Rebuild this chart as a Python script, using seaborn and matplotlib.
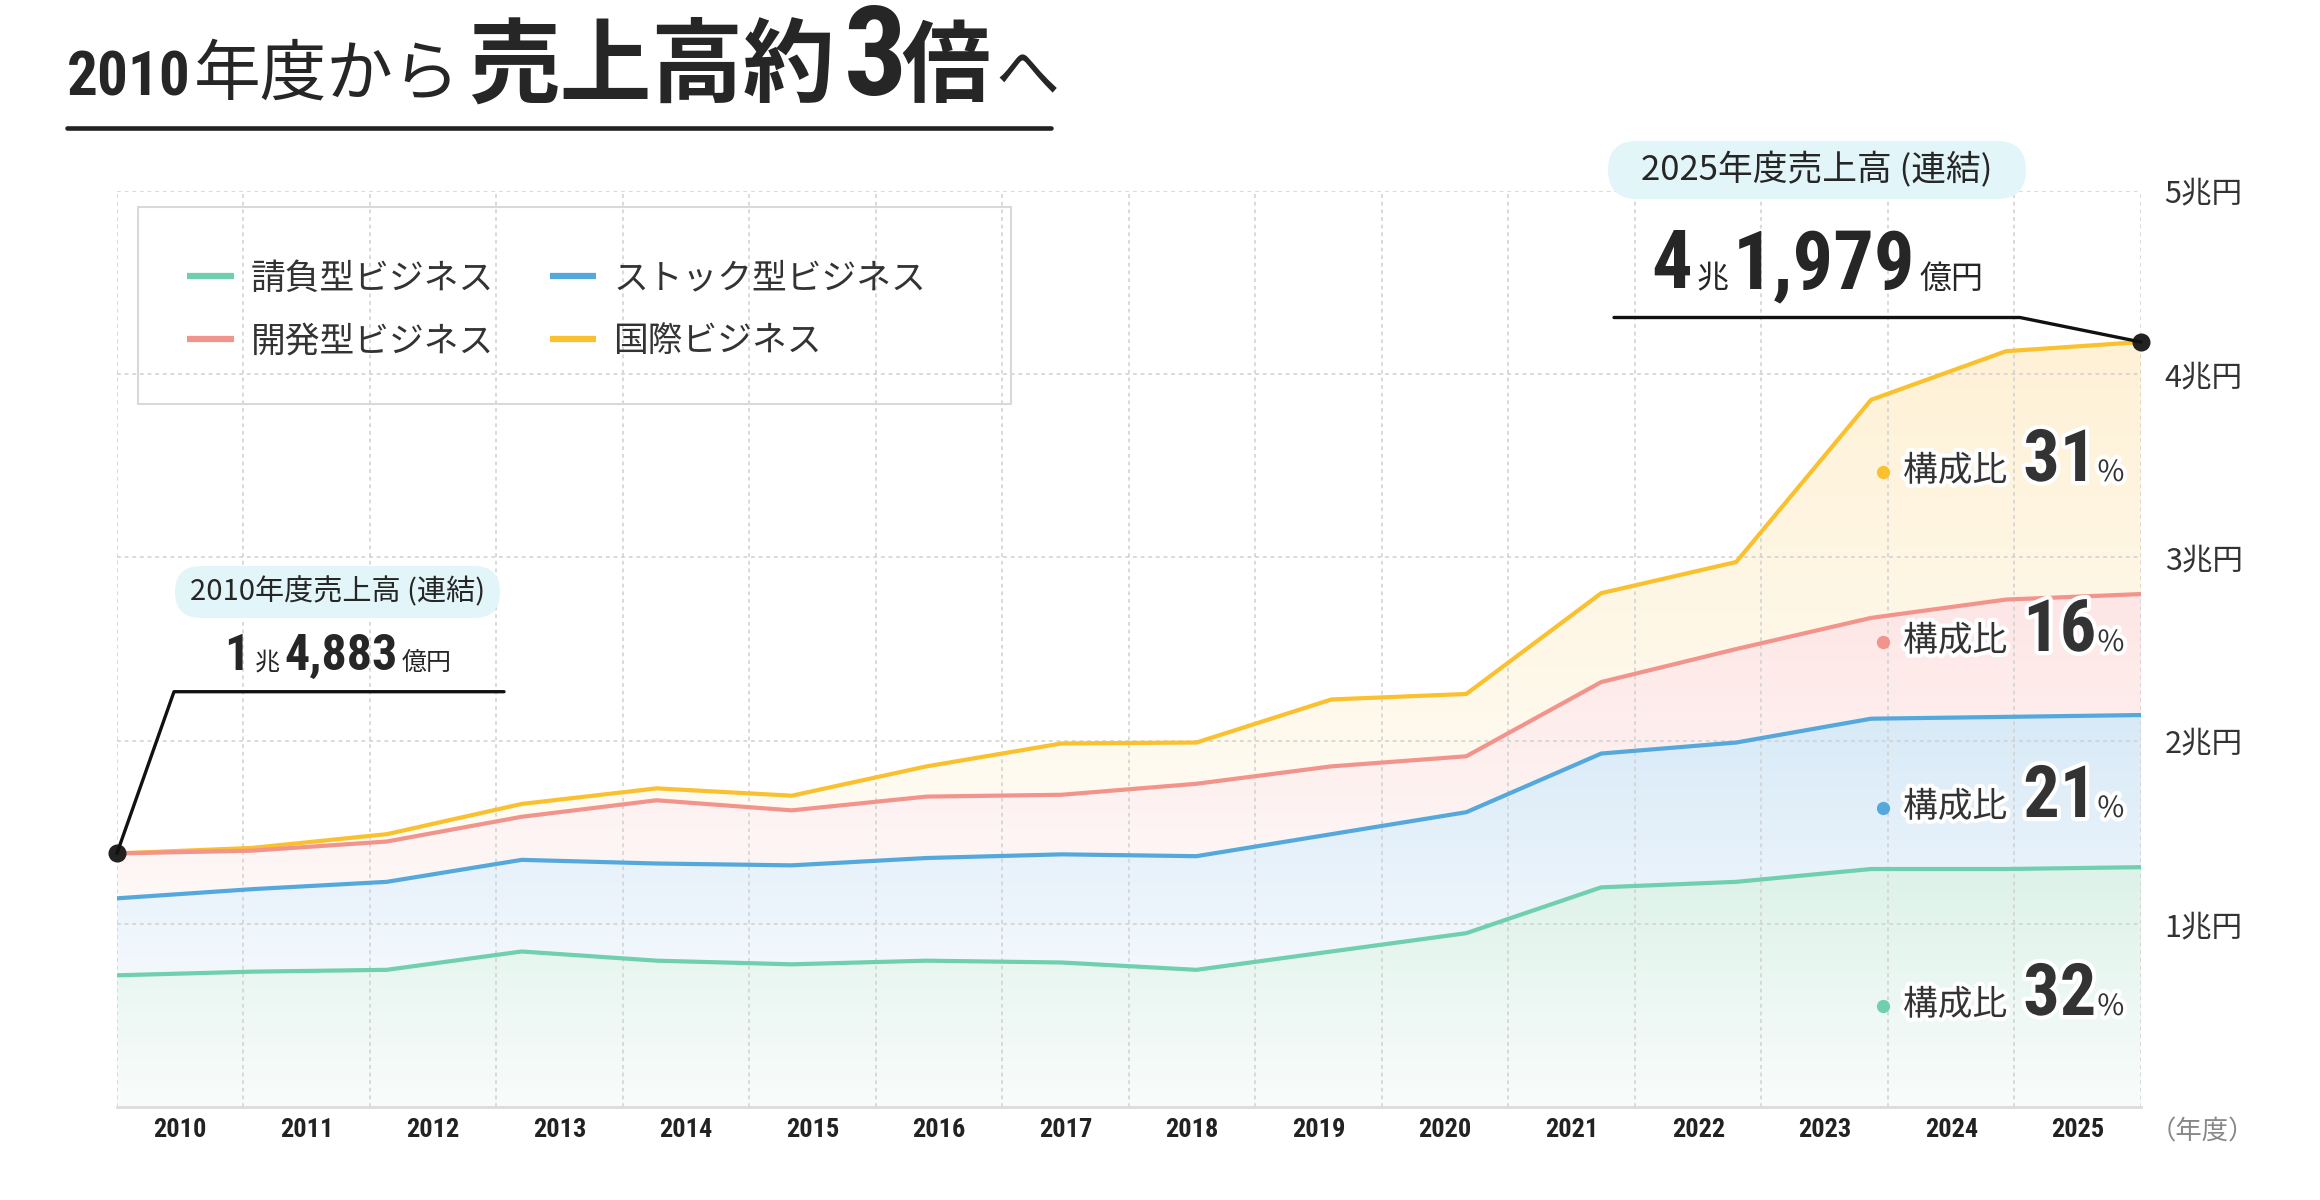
import numpy as np
import pandas as pd
import matplotlib
matplotlib.use('Agg')
import matplotlib.pyplot as plt
import matplotlib.transforms as mtransforms
import matplotlib.patheffects as pe
from matplotlib.patches import FancyBboxPatch, Rectangle
from matplotlib.lines import Line2D
from matplotlib.colors import LinearSegmentedColormap
from matplotlib import font_manager
import seaborn as sns

# ---- data (兆円) ----
years = list(range(2010, 2026))
ukeoi = [0.72, 0.74, 0.75, 0.85, 0.80, 0.78, 0.80, 0.79, 0.75, 0.85, 0.95, 1.20, 1.23, 1.30, 1.30, 1.31]
stock = [0.42, 0.45, 0.48, 0.50, 0.53, 0.54, 0.56, 0.59, 0.62, 0.64, 0.66, 0.73, 0.76, 0.82, 0.83, 0.83]
kaihatsu = [0.245, 0.21, 0.22, 0.235, 0.345, 0.30, 0.335, 0.325, 0.395, 0.37, 0.305, 0.39, 0.51, 0.55, 0.64, 0.66]
kokusai = [0.0, 0.015, 0.04, 0.07, 0.065, 0.08, 0.165, 0.28, 0.225, 0.365, 0.34, 0.485, 0.475, 1.19, 1.355, 1.375]
series_names = ['請負型ビジネス', 'ストック型ビジネス', '開発型ビジネス', '国際ビジネス']
shares = [32, 21, 16, 31]
ytick_vals = [1, 2, 3, 4, 5]
ytick_labels = ['1兆円', '2兆円', '3兆円', '4兆円', '5兆円']

line_colors = ['#6fcfae', '#54a8dc', '#f2938c', '#fbc02d']
fill_top = ['#ddf2e9', '#d8eaf7', '#fde6e5', '#fef1d6']
fill_bot = ['#f9fcfb', '#f3f8fd', '#fef8f7', '#fffcf4']

W, H = 2320, 1200

sns.set_theme(style='white')
plt.rcParams['font.family'] = ['Noto Sans CJK JP', 'DejaVu Sans']
cjk = ['Noto Sans CJK JP', 'DejaVu Sans']
names = {f.name for f in font_manager.fontManager.ttflist}
num_font = next((n for n in ['Roboto Condensed', 'Liberation Sans Narrow', 'DejaVu Sans Condensed',
                             'Open Sans Condensed', 'Roboto'] if n in names), 'DejaVu Sans')

fig = plt.figure(figsize=(W / 100, H / 100), dpi=100)
fig.patch.set_facecolor('white')
tpx = mtransforms.Affine2D().scale(1, -1).translate(0, H)  # pixel coords from top-left

ax = fig.add_axes([116.9 / W, 1 - 1107.3 / H, (2141 - 116.9) / W, (1107.3 - 190.8) / H])
ax.set_facecolor('none')

pos = np.arange(len(years))
tops = np.cumsum(np.array([ukeoi, stock, kaihatsu, kokusai]), axis=0)
lows = np.vstack([np.zeros(len(years)), tops[:-1]])

# gradient-filled bands
for i in range(4):
    poly = ax.fill_between(pos, lows[i], tops[i], facecolor='none', edgecolor='none')
    cmap = LinearSegmentedColormap.from_list('g%d' % i, [fill_bot[i], fill_top[i]])
    im = ax.imshow(np.linspace(0, 1, 256).reshape(-1, 1), cmap=cmap, origin='lower', aspect='auto',
                   extent=[pos[0], pos[-1], lows[i].min(), tops[i].max()], zorder=1,
                   interpolation='bilinear')
    im.set_clip_path(poly.get_paths()[0], transform=ax.transData)

long = pd.DataFrame({'pos': np.tile(pos, 4), 'top': tops.ravel(),
                     'series': np.repeat(series_names, len(years))})
sns.lineplot(data=long, x='pos', y='top', hue='series', hue_order=series_names[::-1],
             palette=dict(zip(series_names, line_colors)), linewidth=3, errorbar=None,
             legend=False, ax=ax, zorder=3)

n = len(years)
span = pos[-1] - pos[0]
ax.set_xlim(pos[0], pos[-1])
ax.set_ylim(0, 5)
ax.set_xticks([(k + 0.5) * span / n for k in range(n)])
ax.set_xticklabels(years, fontfamily=num_font, fontweight='bold', fontsize=19, color='#222222')
ax.set_xticks([k * span / n for k in range(n + 1)], minor=True)
ax.set_yticks(ytick_vals)
ax.set_yticklabels(ytick_labels, fontsize=22, color='#333333')
ax.yaxis.tick_right()
ax.tick_params(which='both', length=0)
ax.tick_params(axis='y', pad=17)
ax.tick_params(axis='x', pad=8)
ax.set_xlabel('')
ax.set_ylabel('')
ax.set_axisbelow('line')
ax.grid(False)
ax.grid(which='minor', axis='x', color='#d0d0d0', lw=1.1, linestyle=(0, (2.5, 2.5)))
ax.grid(which='major', axis='y', color='#d0d0d0', lw=1.1, linestyle=(0, (2.5, 2.5)))
for s in ['top', 'left', 'right']:
    ax.spines[s].set_visible(False)
ax.spines['bottom'].set_color('#dcdcdc')
ax.spines['bottom'].set_linewidth(2)

fig.text(2150, 1132, '（年度）', transform=tpx, fontsize=19, color='#888888', va='center', ha='left')

r = fig.canvas.get_renderer()


def run(parts, x, y, align='left', effects=None):
    objs, cur = [], 0.0
    for s, kw, gap in parts:
        t = fig.text(0, 0, s, transform=tpx, va='baseline', ha='left', **kw)
        if effects:
            t.set_path_effects(effects)
        objs.append((t, cur))
        cur += t.get_window_extent(r).width + gap
    total = cur - parts[-1][2]
    x0 = x - total / 2 if align == 'center' else x
    for t, off in objs:
        t.set_position((x0 + off, y))


NUM = dict(family=num_font, weight='bold', color='#262626')
JP = dict(family=cjk, color='#262626')
JPB = dict(family=cjk, weight='bold', color='#262626')

# title
run([('2010', dict(NUM, fontsize=44), 3),
     ('年度から', dict(JP, fontsize=48), 8),
     ('売上高約', dict(JPB, fontsize=66), 9),
     ('3', dict(NUM, fontsize=90), -6),
     ('倍', dict(JPB, fontsize=64), 6),
     ('へ', dict(JP, fontsize=46), 0)], 67, 95)
fig.add_artist(Line2D([67, 1051], [128, 128], transform=tpx, color='#222222', lw=3.3))

# legend
fig.add_artist(Rectangle((137.6, 207), 873, 197, transform=tpx, facecolor='none',
                         edgecolor='#d9d9d9', lw=1.5))
handles = [Line2D([], [], color=c, lw=4.5, solid_capstyle='butt') for c in line_colors]
order = [0, 2, 1, 3]
fig.legend([handles[i] for i in order], [series_names[i] for i in order], ncol=2,
           loc='upper left', bbox_to_anchor=(170 / W, 1 - 244 / H), frameon=False,
           fontsize=25, handlelength=1.33, handletextpad=0.5, columnspacing=1.6,
           borderpad=0, labelspacing=0.8, labelcolor='#333333')

# callout 2010
fig.add_artist(FancyBboxPatch((175, 566), 325, 52, boxstyle='round,pad=0,rounding_size=26',
                              transform=tpx, facecolor='#e2f5f8', edgecolor='none'))
fig.text(337.5, 592, '2010年度売上高 (連結)', transform=tpx, fontsize=21, color='#262626',
         ha='center', va='center')
run([('1', dict(NUM, fontsize=36), 5), ('兆', dict(JP, fontsize=18), 4),
     ('4,883', dict(NUM, fontsize=36), 4), ('億円', dict(JP, fontsize=18), 0)],
    338, 670, align='center')

# callout 2025
fig.add_artist(FancyBboxPatch((1608, 141), 418, 58, boxstyle='round,pad=0,rounding_size=29',
                              transform=tpx, facecolor='#e2f5f8', edgecolor='none'))
fig.text(1817, 170, '2025年度売上高 (連結)', transform=tpx, fontsize=25, color='#262626',
         ha='center', va='center')
run([('4', dict(NUM, fontsize=58), 5), ('兆', dict(JP, fontsize=23), 4),
     ('1,979', dict(NUM, fontsize=58), 4), ('億円', dict(JP, fontsize=23), 0)],
    1817, 288, align='center')

# leader lines + dots
d0 = ax.transData.transform((pos[0], tops[-1][0]))
d1 = ax.transData.transform((pos[-1], tops[-1][-1]))
p0 = (d0[0], H - d0[1])
p1 = (d1[0], H - d1[1])
fig.add_artist(Line2D([p0[0], 174, 504], [p0[1], 691.7, 691.7], transform=tpx, color='#111111', lw=2.4))
fig.add_artist(Line2D([1614, 2020, p1[0]], [317.5, 317.5, p1[1]], transform=tpx, color='#111111', lw=2.4))
ax.plot([pos[0], pos[-1]], [tops[-1][0], tops[-1][-1]], 'o', ms=12, color='#222222',
        clip_on=False, zorder=10)

# composition labels
stroke = [pe.withStroke(linewidth=6, foreground='white')]
label_y = [1006, 808, 642, 472]
for i in range(4):
    dy = label_y[i]
    fig.add_artist(Line2D([1883], [dy], transform=tpx, marker='o', ms=8.5, color=line_colors[i], lw=0))
    run([('構成比', dict(JP, fontsize=25, color='#333333'), 16),
         (str(shares[i]), dict(NUM, fontsize=52, color='#333333'), 1),
         ('%', dict(JP, fontsize=21, color='#333333'), 0)],
        1903, dy + 9, effects=stroke)

fig.savefig('out.png', dpi=100, facecolor='white')
